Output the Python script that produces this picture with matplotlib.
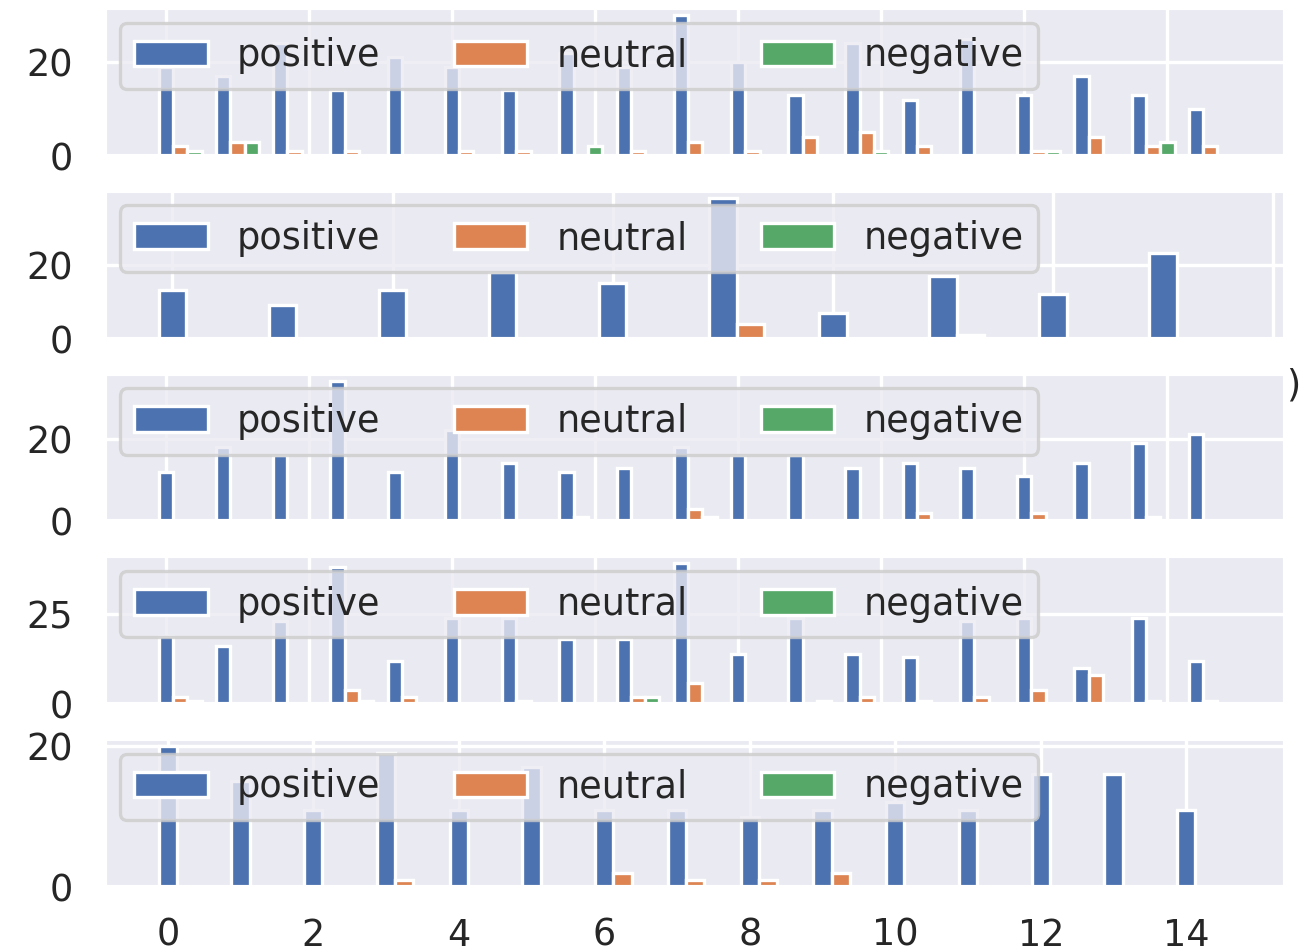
import numpy as np
import matplotlib
matplotlib.use('Agg')
import matplotlib.pyplot as plt
import seaborn as sns

sns.set_theme(style='darkgrid', context='poster')

labels = ['positive', 'neutral', 'negative']

# panel 1
pos_1 = [19, 17, 24, 14, 21, 19, 14, 22, 19, 30, 20, 13, 24, 12, 25, 13, 17, 13, 10]
neu_1 = [2, 3, 1, 1, 0, 1, 1, 0, 1, 3, 1, 4, 5, 2, 0, 1, 4, 2, 2]
neg_1 = [1, 3, 0, 0, 0, 0, 0, 2, 0, 0, 0, 0, 1, 0, 0, 1, 0, 3, 0]

# panel 2
pos_2 = [13, 9, 13, 18, 15, 38, 7, 17, 12, 23]
neu_2 = [0, 0, 0, 0, 0, 4, 0, 1, 0, 0]
neg_2 = [0, 0, 0, 0, 0, 0, 0, 0, 0, 0]

# panel 3
pos_3 = [12, 18, 16, 34, 12, 22, 14, 12, 13, 18, 16, 16, 13, 14, 13, 11, 14, 19, 21]
neu_3 = [0, 0, 0, 0, 0, 0, 0, 1, 0, 3, 0, 0, 0, 2, 0, 2, 0, 1, 0]
neg_3 = [0, 0, 0, 0, 0, 0, 0, 0, 0, 1, 0, 0, 0, 0, 0, 0, 0, 0, 0]

# panel 4
pos_4 = [19, 16, 23, 38, 12, 24, 24, 18, 18, 39, 14, 24, 14, 13, 23, 24, 10, 24, 12]
neu_4 = [2, 0, 0, 4, 2, 0, 1, 0, 2, 6, 0, 0, 2, 1, 2, 4, 8, 1, 1]
neg_4 = [1, 0, 0, 1, 0, 0, 0, 0, 2, 0, 0, 1, 0, 0, 0, 0, 0, 0, 0]

# panel 5
pos_5 = [20, 15, 11, 19, 11, 17, 11, 11, 10, 11, 12, 11, 16, 16, 11]
neu_5 = [0, 0, 0, 1, 0, 0, 2, 1, 1, 2, 0, 0, 0, 0, 0]
neg_5 = [0, 0, 0, 0, 0, 0, 0, 0, 0, 0, 0, 0, 0, 0, 0]

panels = [(pos_1, neu_1, neg_1), (pos_2, neu_2, neg_2), (pos_3, neu_3, neg_3),
          (pos_4, neu_4, neg_4), (pos_5, neu_5, neg_5)]

fig, axes = plt.subplots(5, 1, figsize=(1313 / 120, 952 / 120), dpi=120)
fig.subplots_adjust(left=0.080, right=0.979, top=0.9916, bottom=0.0683, hspace=0.236)

width = 0.25
for i, (ax, series) in enumerate(zip(axes, panels)):
    x = np.arange(len(series[0]))
    for k, (vals, lab) in enumerate(zip(series, labels)):
        ax.bar(x + k * width, vals, width, label=lab)
    ax.legend(loc='upper left', ncol=3, borderaxespad=0.4)
    ax.tick_params(axis='y', pad=7)
    ax.tick_params(axis='x', pad=6)
    if i < 4:
        ax.tick_params(labelbottom=False)

# stray glyph peeking out at the right of the third panel
fig.text(0.9795, 1 - 386 / 952, ')', ha='left', va='center', fontsize=22)

fig.savefig('out.png', dpi=120)
